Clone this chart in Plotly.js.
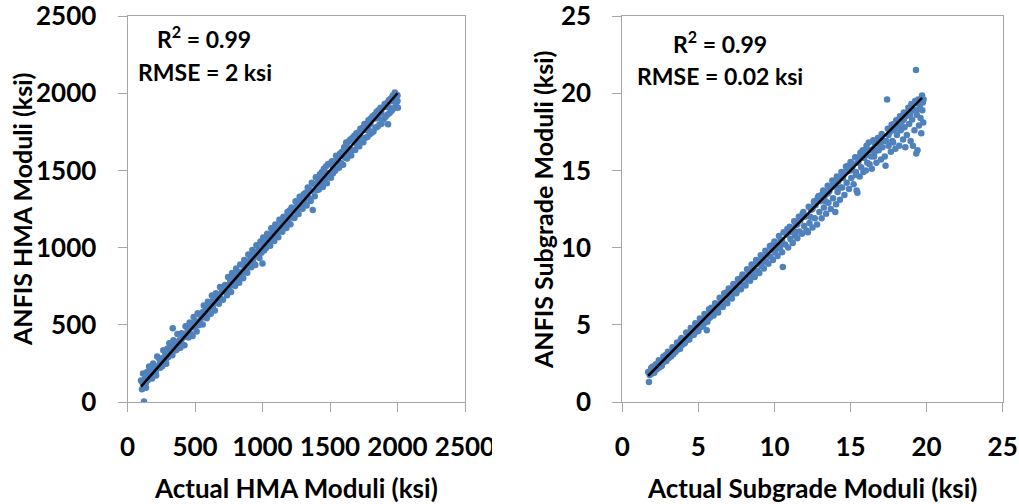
<!DOCTYPE html>
<html>
<head>
<meta charset="utf-8">
<script src="https://cdn.plot.ly/plotly-3.0.1.min.js"></script>
<style>html,body{margin:0;padding:0;background:#fff;}#chart{width:1019px;height:504px;}</style>
</head>
<body>
<div id="chart"></div>
<script>
// Left panel: HMA moduli (ksi)
const hmaActual = [
100,107,115,122,130,137,145,152,160,167,
175,182,190,197,205,212,220,227,235,242,
250,257,265,272,280,287,295,302,310,317,
325,332,335,340,347,355,362,370,377,385,
392,400,407,415,422,430,437,445,452,460,
467,475,482,490,497,505,512,520,527,535,
542,550,557,565,572,580,587,595,602,610,
617,625,632,640,647,655,662,670,677,685,
692,700,707,715,722,730,737,745,752,760,
767,775,782,790,797,805,812,820,827,835,
842,850,857,865,872,880,887,895,902,910,
917,925,932,940,947,955,962,970,977,985,
992,1000,1005,1012,1020,1027,1035,1042,1050,1057,
1065,1072,1080,1087,1095,1102,1110,1117,1125,1132,
1140,1147,1155,1162,1170,1177,1185,1192,1200,1207,
1215,1222,1230,1237,1245,1252,1260,1267,1275,1282,
1290,1297,1305,1312,1320,1327,1335,1342,1350,1357,
1365,1372,1380,1387,1395,1402,1410,1417,1425,1432,
1440,1447,1455,1462,1470,1477,1485,1492,1500,1507,
1515,1522,1530,1537,1545,1552,1560,1567,1575,1582,
1590,1597,1605,1612,1620,1627,1635,1642,1650,1657,
1665,1672,1680,1687,1695,1702,1710,1717,1725,1732,
1740,1747,1755,1762,1770,1777,1785,1792,1800,1807,
1815,1822,1830,1837,1845,1852,1860,1867,1875,1882,
1890,1897,1930,1905,1912,1920,1927,1935,1942,1950,
1957,1965,1972,1980,1987,1995,2000,2003,
120,160,200,240,280,320,360,400,440,480,520,560,600,640,680,720,760,800,840,880,920,960,1000,1040,1080,1120,1160,1200,1240,1280,1320,1360,1400,1440,1480,1520,1560,1600,1640,1680,1720,1760,1800,1840,1880,1920,1960,2000,
110,135,185,210,260,285,335,360,410,435,485,510,560,585,635,660,710,735,785,810,860,885,935,960,1010,1035,1085,1110,1160,1185,1235,1260,1310,1335,1385,1410,1460,1485,1535,1560,1610,1635,1685,1710,1760,1785,1835,1860,1910,1935,1985,1990
];
const hmaAnfis = [
140,82,185,3,150,92,195,142,230,177,
205,152,250,182,230,172,295,227,280,222,
275,232,335,282,305,247,345,292,380,307,
355,302,478,400,332,385,337,440,372,400,
352,445,372,420,367,490,422,475,417,515,
442,490,427,550,482,520,457,575,497,565,
507,545,502,625,557,595,542,650,567,625,
572,690,617,655,592,705,647,685,637,745,
667,715,662,730,757,745,692,810,737,790,
712,835,757,810,752,865,787,840,772,890,
817,845,802,920,842,905,837,955,877,925,
872,985,907,940,887,1015,947,985,932,1040,
967,897,1065,982,1050,997,1090,1032,1075,1012,
1125,1052,1100,1042,1150,1082,1120,1067,1180,1112,
1155,1102,1200,1137,1195,1127,1230,1167,1240,1152,
1260,1197,1255,1192,1300,1232,1280,1217,1330,1262,
1310,1252,1345,1287,1355,1272,1390,1322,1375,1302,
1420,1243,1410,1332,1455,1372,1445,1377,1475,1412,
1490,1392,1510,1437,1525,1417,1540,1457,1545,1452,
1560,1482,1555,1497,1595,1512,1590,1517,1610,1547,
1620,1537,1650,1582,1680,1577,1685,1607,1700,1597,
1710,1632,1725,1632,1740,1662,1745,1657,1770,1687,
1775,1682,1800,1712,1795,1717,1825,1732,1835,1742,
1850,1752,1860,1777,1880,1782,1890,1797,1905,1802,
1905,1832,1799,1930,1847,1935,1862,1955,1872,1965,
1887,1985,1902,2005,1922,1990,1950,1905,
120,168,205,248,285,326,362,404,446,486,522,566,604,646,684,726,764,806,842,886,922,966,1004,1046,1082,1126,1164,1206,1242,1288,1322,1366,1404,1446,1482,1528,1562,1606,1644,1686,1722,1762,1802,1836,1874,1910,1950,1985,
128,120,212,200,285,275,360,350,432,425,510,500,585,575,660,648,735,725,808,800,885,872,958,950,1035,1025,1108,1100,1185,1172,1258,1250,1335,1325,1410,1398,1485,1475,1558,1550,1635,1625,1708,1698,1782,1770,1850,1840,1920,1910,1975,1935
];
const hmaFitX = [100, 2000];
const hmaFitY = [100, 2000];

// Right panel: subgrade moduli (ksi)
const sgActual = [
1.7,1.75,1.8,1.9,1.95,2.0,2.1,2.2,2.25,2.3,
2.4,2.45,2.5,2.6,2.7,2.75,2.8,2.9,3.0,3.05,
3.1,3.2,3.3,3.35,3.4,3.5,3.6,3.65,3.7,3.8,
3.9,3.95,4.0,4.1,4.2,4.25,4.3,4.4,4.5,4.55,
4.6,4.7,4.8,4.85,4.9,5.0,5.1,5.15,5.2,5.3,
5.4,5.45,5.5,5.55,5.6,5.7,5.75,5.8,5.9,6.0,
6.1,6.15,6.2,6.3,6.4,6.45,6.5,6.6,6.7,6.75,
6.8,6.9,7.0,7.05,7.1,7.2,7.3,7.35,7.4,7.5,
7.6,7.65,7.7,7.8,7.9,7.95,8.0,8.1,8.2,8.25,
8.3,8.4,8.5,8.55,8.6,8.7,8.8,8.85,8.9,9.0,
9.1,9.15,9.2,9.3,9.4,9.45,9.5,9.6,9.7,9.75,
9.8,9.9,10.0,10.05,10.1,10.2,10.3,10.35,10.4,10.5,
10.55,10.6,10.7,10.8,10.9,11.0,11.05,11.1,11.2,11.3,
11.35,11.4,11.5,11.6,11.65,11.7,11.8,11.9,11.95,12.0,
12.1,12.2,12.25,12.3,12.4,12.5,12.6,12.65,12.7,12.8,
12.9,12.95,13.0,13.1,13.2,13.25,13.3,13.4,13.5,13.55,
13.6,13.7,13.8,13.85,13.9,14.0,14.05,14.1,14.15,14.2,
14.3,14.4,14.45,14.5,14.6,14.7,14.75,14.8,14.9,15.0,
15.05,15.1,15.2,15.3,15.35,15.4,15.45,15.5,15.6,15.65,
15.7,15.8,15.85,15.9,16.0,16.05,16.1,16.2,16.25,16.3,
16.4,16.5,16.55,16.6,16.7,16.8,16.85,16.9,17.0,17.05,
17.1,17.2,17.25,17.3,17.4,17.45,17.5,17.6,17.65,17.7,
17.75,17.8,17.9,17.95,18.0,18.05,18.1,18.2,18.25,18.3,
18.4,18.45,18.5,18.55,18.6,18.65,18.7,18.8,18.85,18.9,
18.95,19.0,19.05,19.1,19.15,19.2,19.25,19.3,19.32,19.35,
19.4,19.45,19.5,19.55,19.6,19.65,19.7,19.72,19.75,19.78,19.8,
2.5,3.0,3.5,4.0,4.5,5.0,5.5,6.0,6.5,7.0,7.5,8.0,8.5,9.0,9.5,10.0,10.5,11.0,11.5,12.0,12.5,13.0,13.5,14.0,14.5,15.0,15.5,16.0,16.5,17.0,17.5,18.0,18.5,19.0,19.5,
1.85,2.35,2.85,3.35,3.85,4.35,4.85,5.35,5.85,6.35,6.85,7.35,7.85,8.35,8.85,9.35,9.85,10.35,10.85,11.35,11.85,12.35,12.85,13.35,13.85,14.35,14.85,15.35,15.85,16.35,16.85,17.35,17.85,18.35,18.85,19.35,19.6,12.6,13.1,13.6,14.1,14.6,15.1,15.6,16.1,16.6
];
const sgAnfis = [
1.95,1.3,1.75,2.2,1.85,2.3,1.9,2.45,2.1,2.2,
2.7,2.25,2.6,2.35,2.95,2.6,2.85,2.65,3.25,2.85,
3.15,2.95,3.55,3.1,3.45,3.25,3.85,3.4,3.7,3.45,
4.15,3.7,4.05,3.8,4.5,4.0,4.35,4.05,4.8,4.3,
4.65,4.35,5.1,4.55,4.95,4.6,5.4,4.85,5.25,4.9,
5.7,5.15,5.55,4.65,5.2,6.0,5.45,5.8,5.95,5.6,
6.4,5.85,6.25,5.8,6.75,6.15,6.55,6.15,7.05,6.45,
6.85,6.4,7.35,6.75,7.15,6.7,7.65,7.05,7.45,7.05,
7.95,7.3,7.75,7.3,8.25,7.6,8.05,7.55,8.6,7.9,
8.35,7.85,8.9,8.2,8.65,8.1,9.2,8.5,8.95,8.35,
9.5,8.8,9.25,8.65,9.8,9.1,9.55,8.95,10.1,9.4,
9.85,9.2,10.4,9.7,10.15,9.45,10.75,9.95,10.45,9.7,
8.75,11.0,10.2,10.85,10.0,11.35,10.55,11.15,10.3,11.7,
10.8,11.45,10.6,12.0,11.05,11.75,10.9,12.3,11.4,12.05,
11.1,11.0,12.65,11.6,12.45,11.3,13.0,11.9,12.75,11.5,
13.35,12.3,13.05,11.9,13.7,12.6,13.35,12.2,14.0,12.9,
13.65,12.5,14.35,13.2,13.95,12.3,12.8,14.6,13.6,14.3,
13.1,14.9,13.9,14.6,13.4,15.25,14.2,14.95,13.8,15.55,
14.5,15.2,14.1,15.85,14.7,13.7,13.55,15.6,14.6,16.15,
15.2,16.3,14.9,15.8,15.0,16.6,15.5,16.8,15.4,16.3,
15.1,16.95,15.9,16.2,15.5,17.1,16.3,16.6,15.7,17.35,
16.5,16.9,15.9,15.3,19.6,17.7,16.6,17.5,16.2,17.95,
16.9,16.8,17.6,16.4,18.25,17.3,17.9,16.6,18.5,17.6,
18.2,17.0,18.75,17.8,16.5,18.5,17.3,19.05,18.0,18.6,
16.9,19.3,18.3,16.6,18.9,17.6,19.5,21.5,16.1,18.6,
16.3,19.6,17.9,19.2,18.4,17.4,19.85,18.9,19.4,18.1,19.6,
2.5,3.0,3.5,4.0,4.5,5.0,5.5,6.0,6.5,7.0,7.5,8.0,8.5,9.0,9.5,10.0,10.5,11.0,11.5,12.0,12.5,13.0,13.5,14.0,14.5,15.0,15.5,16.0,16.4,16.9,17.3,17.9,18.3,18.9,19.3,
2.0,2.2,3.05,3.2,4.05,4.2,5.05,5.2,6.1,6.15,7.1,7.15,8.1,8.1,9.1,9.1,10.15,10.1,11.2,11.05,12.2,12.0,13.25,13.0,14.25,13.9,15.3,14.9,16.2,15.9,17.1,16.9,18.0,17.8,18.9,18.9,19.5,12.9,13.4,13.9,14.4,14.9,15.45,15.9,16.35,16.75
];
const sgFitX = [1.7, 19.7];
const sgFitY = [1.7, 19.7];

const ticksHma = [0, 500, 1000, 1500, 2000, 2500];
const ticksSg = [0, 5, 10, 15, 20, 25];

const FONT = 'Lato, "Open Sans", sans-serif';
const dotColor = '#4f81bd';

const traces = [
  {x: hmaActual, y: hmaAnfis, type: 'scatter', mode: 'markers', xaxis: 'x', yaxis: 'y',
   marker: {color: dotColor, size: 6.5}},
  {x: hmaFitX, y: hmaFitY, type: 'scatter', mode: 'lines', xaxis: 'x', yaxis: 'y',
   line: {color: '#000', width: 2.5}},
  {x: sgActual, y: sgAnfis, type: 'scatter', mode: 'markers', xaxis: 'x2', yaxis: 'y2',
   marker: {color: dotColor, size: 6.5}},
  {x: sgFitX, y: sgFitY, type: 'scatter', mode: 'lines', xaxis: 'x2', yaxis: 'y2',
   line: {color: '#000', width: 2.5}}
];

const tickFont = {family: FONT, size: 26, color: '#000', weight: 'bold'};
function axisBase(extra) {
  return Object.assign({
    showgrid: false, zeroline: false, showline: true, mirror: true,
    linecolor: '#a6a6a6', linewidth: 1, ticks: 'outside', ticklen: 9,
    tickcolor: '#a6a6a6', tickfont: tickFont, fixedrange: true,
    ticklabeloverflow: 'allow'
  }, extra);
}

const W = 1019, H = 504;
const px = v => v / W, py = v => 1 - v / H;
function ann(text, x, y, size, angle) {
  return {text: text, xref: 'paper', yref: 'paper', x: px(x), y: py(y),
    xanchor: 'center', yanchor: 'middle', showarrow: false,
    font: {family: FONT, size: size, color: '#000', weight: 'bold'},
    textangle: angle || 0};
}

const layout = {
  width: W, height: H,
  margin: {l: 0, r: 0, t: 0, b: 0},
  paper_bgcolor: '#fff', plot_bgcolor: '#fff',
  showlegend: false,
  xaxis: axisBase({domain: [px(127.5), px(465)], range: [0, 2500], tickvals: ticksHma, anchor: 'y', ticklabelstandoff: 13}),
  yaxis: axisBase({domain: [1 - 402/H, 1 - 16/H], range: [0, 2500], tickvals: ticksHma, anchor: 'x', ticklabelstandoff: 16}),
  xaxis2: axisBase({domain: [px(622.3), px(1002.7)], range: [0, 25], tickvals: ticksSg, anchor: 'y2', ticklabelstandoff: 13}),
  yaxis2: axisBase({domain: [1 - 402/H, 1 - 16/H], range: [0, 25], tickvals: ticksSg, anchor: 'x2', ticklabelstandoff: 16}),
  annotations: [
    ann('R<sup>2</sup> = 0.99', 204, 38, 23),
    ann('RMSE = 2 ksi', 205, 72, 23),
    ann('R<sup>2</sup> = 0.99', 720, 42, 23),
    ann('RMSE = 0.02 ksi', 720, 76, 23),
    ann('Actual HMA Moduli (ksi)', 296, 488, 26),
    ann('ANFIS HMA Moduli (ksi)', 22, 210, 25, -90),
    ann('Actual Subgrade Moduli (ksi)', 812.5, 488, 26),
    ann('ANFIS Subgrade Moduli (ksi)', 543, 210, 25, -90)
  ],
  shapes: [
    {type: 'rect', xref: 'paper', yref: 'paper', x0: px(492), x1: px(508), y0: py(464), y1: py(426),
     fillcolor: '#fff', line: {width: 0}, layer: 'above'}
  ]
};

Plotly.newPlot('chart', traces, layout, {displayModeBar: false, staticPlot: true});
</script>
</body>
</html>
